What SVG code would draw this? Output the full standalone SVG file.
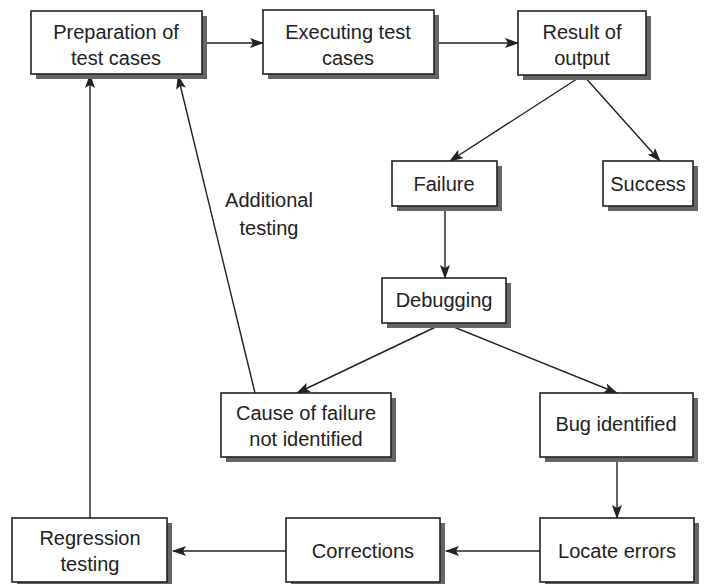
<svg xmlns="http://www.w3.org/2000/svg" width="704" height="584" viewBox="0 0 704 584">
<defs>
<style>
.sh{fill:#666}
.bx{fill:#fff;stroke:#222;stroke-width:1.6}
.t{font-family:"Liberation Sans",Arial,sans-serif;font-size:20px;fill:#222;text-anchor:middle}
.c{stroke:#222;stroke-width:1.4;fill:none;marker-end:url(#ah)}
</style>
<marker id="ah" markerUnits="userSpaceOnUse" markerWidth="14" markerHeight="10" viewBox="0 0 14 10" refX="13" refY="5" orient="auto">
<path d="M0,0 L14,5 L0,10 L3,5 Z" fill="#222"/>
</marker>
</defs>
<rect width="704" height="584" fill="#fff"/>
<g id="connectors">
<line class="c" x1="202" y1="43" x2="263" y2="43"/>
<line class="c" x1="434" y1="43" x2="518" y2="43"/>
<line class="c" x1="583" y1="75" x2="450" y2="161"/>
<line class="c" x1="583" y1="75" x2="660" y2="161"/>
<line class="c" x1="445" y1="206" x2="445" y2="278"/>
<line class="c" x1="444" y1="323" x2="297" y2="393"/>
<line class="c" x1="444" y1="323" x2="617" y2="393"/>
<line class="c" x1="617" y1="457" x2="617" y2="518"/>
<line class="c" x1="540" y1="551" x2="446" y2="551"/>
<line class="c" x1="286" y1="551" x2="173" y2="551"/>
<line class="c" x1="90" y1="518" x2="90" y2="75"/>
<line class="c" x1="255" y1="393" x2="178" y2="76"/>
<text class="t" x="269" y="207">Additional</text>
<text class="t" x="269" y="235">testing</text>
</g>
<g id="prep"><rect class="sh" x="36" y="16" width="171" height="63"/><rect class="bx" x="31" y="11" width="171" height="63"/><text class="t" x="116" y="39">Preparation of</text><text class="t" x="116" y="65">test cases</text></g>
<g id="exec"><rect class="sh" x="268" y="15" width="171" height="64"/><rect class="bx" x="263" y="10" width="171" height="64"/><text class="t" x="348" y="39">Executing test</text><text class="t" x="348" y="65">cases</text></g>
<g id="result"><rect class="sh" x="523" y="16" width="128" height="64"/><rect class="bx" x="518" y="11" width="128" height="64"/><text class="t" x="582" y="39">Result of</text><text class="t" x="582" y="65">output</text></g>
<g id="failure"><rect class="sh" x="397" y="166" width="105" height="45"/><rect class="bx" x="392" y="161" width="105" height="45"/><text class="t" x="444" y="191">Failure</text></g>
<g id="success"><rect class="sh" x="608" y="166" width="90" height="45"/><rect class="bx" x="603" y="161" width="90" height="45"/><text class="t" x="648" y="191">Success</text></g>
<g id="debugging"><rect class="sh" x="387" y="283" width="124" height="45"/><rect class="bx" x="382" y="278" width="124" height="45"/><text class="t" x="444" y="307">Debugging</text></g>
<g id="cause"><rect class="sh" x="226" y="398" width="170" height="64"/><rect class="bx" x="221" y="393" width="170" height="64"/><text class="t" x="306" y="420">Cause of failure</text><text class="t" x="306" y="446">not identified</text></g>
<g id="bug"><rect class="sh" x="545" y="398" width="153" height="64"/><rect class="bx" x="540" y="393" width="153" height="64"/><text class="t" x="616" y="431">Bug identified</text></g>
<g id="regression"><rect class="sh" x="17" y="523" width="155" height="64"/><rect class="bx" x="12" y="518" width="155" height="64"/><text class="t" x="90" y="545">Regression</text><text class="t" x="90" y="571">testing</text></g>
<g id="corrections"><rect class="sh" x="291" y="523" width="154" height="64"/><rect class="bx" x="286" y="518" width="154" height="64"/><text class="t" x="363" y="558">Corrections</text></g>
<g id="locate"><rect class="sh" x="545" y="523" width="154" height="64"/><rect class="bx" x="540" y="518" width="154" height="64"/><text class="t" x="617" y="558">Locate errors</text></g>
</svg>
